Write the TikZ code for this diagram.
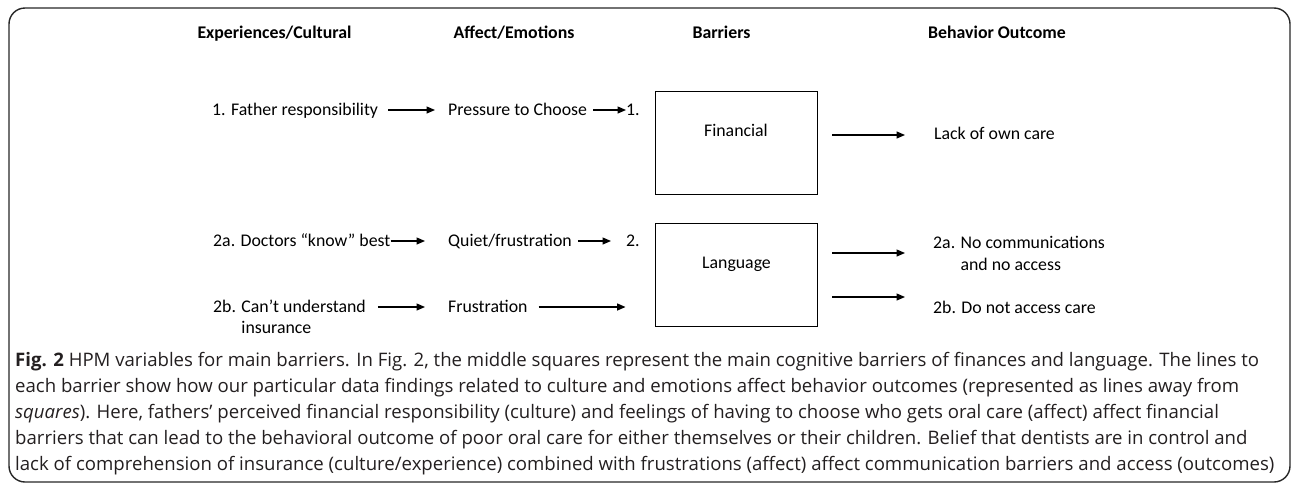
\documentclass[tikz,border=0pt]{standalone}
\usepackage{fontspec}
\setmainfont{Carlito}
\newfontfamily\capfont{Open Sans}
\usetikzlibrary{arrows.meta,calc}
\definecolor{ink}{HTML}{231F20}
\begin{document}
\begin{tikzpicture}[x=1pt,y=-1pt,
  lbl/.style={inner sep=0pt, anchor=west, font=\fontsize{17.8}{20}\selectfont, text height=14pt, text depth=4pt},
  ctr/.style={inner sep=0pt, font=\fontsize{17.8}{20}\selectfont, text height=14pt, text depth=4pt},
  hdr/.style={inner sep=0pt, font=\bfseries\fontsize{17.8}{20}\selectfont, text height=14pt, text depth=4pt},
  barrier/.style={draw, line width=0.9pt, minimum width=162pt, minimum height=103pt, inner sep=0pt},
  arr/.style={line width=1.3pt, -{Triangle[length=8.5pt,width=7pt]}},
  captext/.style={inner sep=0pt, anchor=base west, text=ink, font=\capfont\fontsize{18.6}{26}\selectfont},
  outline/.style={draw=black!85, line width=1.4pt, rounded corners=16pt}
]
\useasboundingbox (0,0) rectangle (1293,485);
\draw[outline] (9,8) rectangle (1290,482);

% headers
\node[hdr] (h1) at (274.5,33) {Experiences/Cultural};
\node[hdr] (h2) at (514,33) {Affect/Emotions};
\node[hdr] (h3) at (721.5,33) {Barriers};
\node[hdr] (h4) at (997,33) {Behavior Outcome};

% row 1
\node[lbl] (f1) at (212,110) {1. Father responsibility};
\node[lbl] (p1) at (448,110) {Pressure to Choose};
\node[lbl] (n1) at (626,110) {1.};
\node[barrier] (finbox) at (736,142.5) {};
\node[ctr] (fin) at (736,131) {Financial};
\node[lbl] (loc) at (934,134) {Lack of own care};

\draw[arr] ([xshift=10pt]f1.east) -- ([xshift=-13pt]p1.west);
\draw[arr] ([xshift=6pt]p1.east) -- (n1.west);
\draw[arr] ($(finbox.east)+(15,-7.5)$) -- ($(finbox.east -| loc.west)+(-29,-7.5)$);

% row 2a
\node[lbl] (d2) at (213,241) {2a. Doctors “know” best};
\node[lbl] (q2) at (448,241) {Quiet/frustration};
\node[lbl] (n2) at (626,241) {2.};
\node[barrier] (langbox) at (736,274.5) {};
\node[ctr] (lang) at (736.5,263) {Language};

\draw[arr] (d2.east) -- ([xshift=-23pt]q2.west);
\draw[arr] ([xshift=6pt]q2.east) -- ([xshift=-15pt]n2.west);

% row 2b
\node[lbl] (c2) at (213,307) {2b. Can’t understand};
\node[lbl] (c2b) at (213,328) {\phantom{2b. }insurance};
\node[lbl] (fr2) at (448,307) {Frustration};

\draw[arr] ([xshift=12pt]c2.east) -- ([xshift=-23pt]fr2.west);
\draw[arr] ([xshift=11pt]fr2.east) -- ($(langbox.west |- fr2.east)+(-29,0)$);

% outcomes
\node[lbl] (o2a) at (933,243) {2a. No communications};
\node[lbl] (o2a2) at (933,265) {\phantom{2a. }and no access};
\node[lbl] (o2b) at (933,308) {2b. Do not access care};

\draw[arr] ($(langbox.east)+(15,-21.5)$) -- ($(langbox.east -| o2a.west)+(-28,-21.5)$);
\draw[arr] ($(langbox.east)+(15,22.5)$) -- ($(langbox.east -| o2b.west)+(-28,22.5)$);

% caption
\node[captext] (cap1) at (15,366) {\textbf{Fig. 2} HPM variables for main barriers. In Fig. 2, the middle squares represent the main cognitive barriers of finances and language. The lines to};
\node[captext] (cap2) at (15,392) {each barrier show how our particular data findings related to culture and emotions affect behavior outcomes (represented as lines away from};
\node[captext] (cap3) at (15,418) {\textit{squares}). Here, fathers’ perceived financial responsibility (culture) and feelings of having to choose who gets oral care (affect) affect financial};
\node[captext] (cap4) at (15,444) {barriers that can lead to the behavioral outcome of poor oral care for either themselves or their children. Belief that dentists are in control and};
\node[captext] (cap5) at (15,470) {lack of comprehension of insurance (culture/experience) combined with frustrations (affect) affect communication barriers and access (outcomes)};
\end{tikzpicture}
\end{document}
